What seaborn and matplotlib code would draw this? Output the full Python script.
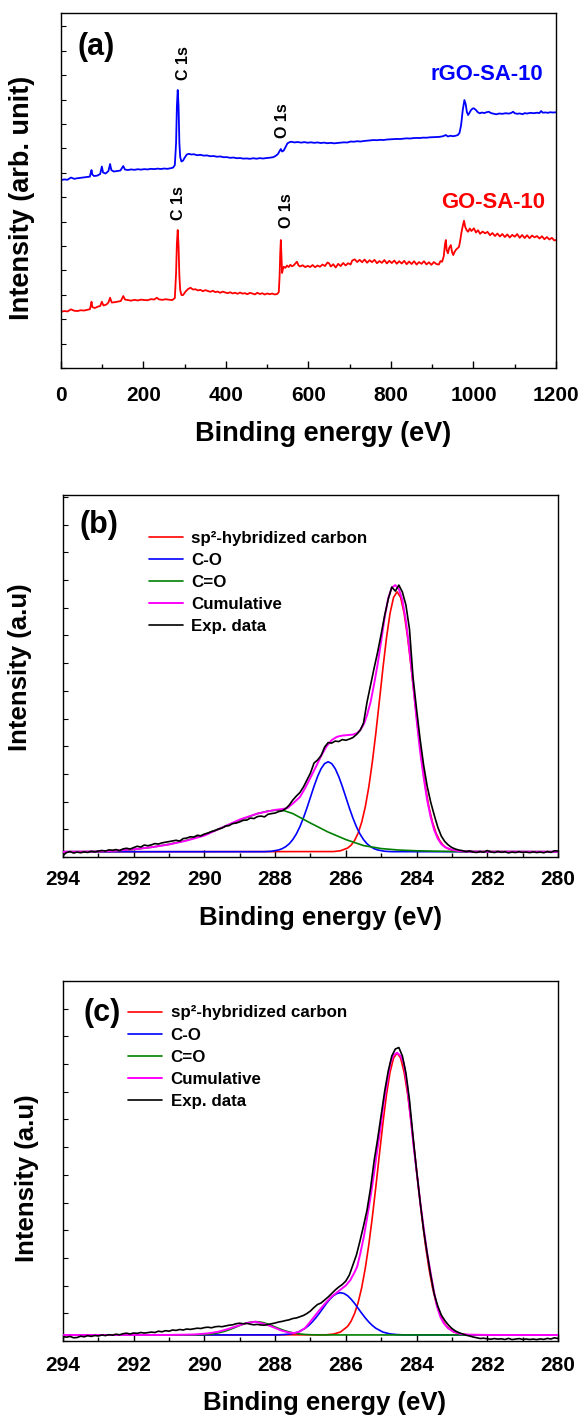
import numpy as np
import matplotlib
matplotlib.use("Agg")
import matplotlib.pyplot as plt
from matplotlib.ticker import MultipleLocator
import seaborn as sns

# ---------------- DATA ----------------
# (a) survey spectra, intensity in arbitrary units
rgo_x = [0, 8, 16, 24, 32, 40, 48, 56, 64, 70, 72, 74, 76, 80, 88, 95, 99, 102, 108, 115, 119, 122, 128, 136, 144,
         151, 155, 162, 170, 178, 186, 194, 202, 210, 218, 226, 234, 242, 250, 258, 266, 272, 276, 279, 281, 283,
         285, 287, 289, 292, 296, 300, 305, 310, 316, 322, 330, 338, 346, 354, 362, 370, 378, 386, 394, 402, 410,
         418, 426, 434, 442, 450, 458, 466, 474, 482, 490, 498, 506, 514, 520, 526, 530, 533, 536, 540, 545, 549,
         554, 558, 566, 574, 582, 590, 598, 606, 614, 622, 630, 638, 646, 654, 662, 670, 678, 686, 694, 702, 710,
         718, 726, 734, 742, 750, 758, 766, 774, 782, 790, 798, 806, 814, 822, 830, 838, 846, 854, 862, 870, 878,
         886, 894, 902, 910, 918, 926, 933, 938, 944, 950, 956, 962, 966, 970, 974, 978, 981, 984, 987, 990, 994,
         998, 1001, 1006, 1010, 1015, 1020, 1026, 1032, 1037, 1042, 1048, 1055, 1062, 1070, 1078, 1086, 1092,
         1096, 1100, 1106, 1112, 1119, 1124, 1130, 1138, 1146, 1154, 1160, 1164, 1168, 1174, 1180, 1186, 1192, 1200]
rgo_y = [188.0, 188.6, 188.3, 190.5, 189.2, 189.8, 190.2, 190.6, 191.0, 191.4, 195.0, 198.0, 193.5, 192.0, 192.4,
         194.0, 201.5, 195.5, 194.5, 197.0, 204.0, 198.0, 196.5, 197.0, 197.5, 202.0, 198.5, 198.0, 198.6, 198.2,
         198.8, 198.4, 198.9, 198.6, 199.2, 198.9, 199.4, 199.0, 199.5, 199.2, 199.8, 200.5, 203.0, 225.0, 262.0,
         278.0, 262.0, 225.0, 211.0, 206.5, 207.5, 210.5, 213.5, 214.2, 213.5, 213.8, 212.8, 213.2, 212.4, 212.6,
         211.8, 212.0, 211.3, 211.6, 210.8, 210.9, 210.2, 210.5, 209.8, 210.0, 209.4, 209.6, 209.2, 209.8, 209.3,
         209.9, 209.5, 210.0, 210.3, 210.8, 212.0, 214.0, 217.0, 219.0, 216.5, 217.5, 221.5, 224.7, 225.8, 226.3,
         225.6, 226.0, 225.4, 225.9, 225.3, 225.7, 225.2, 225.6, 225.0, 225.4, 224.8, 225.2, 224.7, 225.0, 225.2,
         225.7, 225.5, 226.5, 226.3, 226.8, 226.5, 227.0, 227.3, 227.6, 228.0, 227.8, 228.2, 228.0, 228.5, 228.7,
         228.9, 229.1, 229.0, 229.4, 229.7, 229.5, 229.9, 230.1, 230.0, 230.4, 230.3, 230.7, 230.8, 231.0, 231.2,
         231.8, 233.0, 231.5, 232.3, 231.8, 232.2, 233.0, 235.0, 243.0, 258.0, 268.0, 264.0, 256.0, 253.0, 255.0,
         258.0, 259.5, 259.7, 258.0, 256.0, 254.7, 255.5, 255.0, 255.8, 256.3, 255.0, 254.4, 253.7, 254.5, 254.2,
         254.8, 254.4, 255.2, 256.3, 254.8, 254.2, 254.6, 253.8, 254.9, 254.5, 255.2, 254.8, 255.3, 255.0, 257.0,
         255.3, 255.6, 255.2, 255.8, 255.5, 255.7]

go_x = [0, 8, 16, 24, 32, 40, 48, 56, 64, 70, 72, 74, 76, 82, 90, 95, 99, 103, 110, 115, 119, 123, 130, 138, 145,
        151, 155, 162, 170, 178, 186, 194, 202, 210, 218, 226, 232, 238, 246, 254, 262, 270, 276, 279, 281, 283,
        285, 287, 289, 292, 296, 302, 308, 314, 320, 326, 332, 338, 344, 350, 356, 362, 368, 374, 380, 386, 392,
        398, 404, 410, 416, 422, 428, 434, 440, 446, 452, 458, 464, 470, 476, 482, 488, 494, 500, 506, 512, 518,
        524, 528, 530, 531.5, 533, 534.5, 536, 538, 540, 544, 548, 552, 556, 560, 564, 568, 572, 576, 580, 586,
        592, 598, 604, 610, 616, 622, 628, 634, 640, 646, 650, 654, 660, 666, 672, 678, 684, 690, 696, 702, 706,
        712, 718, 724, 730, 736, 742, 748, 754, 760, 766, 772, 778, 784, 790, 796, 802, 808, 814, 820, 826, 832,
        838, 844, 850, 856, 862, 868, 874, 880, 886, 892, 898, 904, 910, 916, 920, 924, 928, 931, 933, 935, 938,
        941, 945, 948, 951, 954, 958, 962, 965, 968, 971, 974, 977, 980, 984, 987, 991, 995, 1001, 1006, 1011,
        1016, 1022, 1028, 1034, 1040, 1046, 1052, 1058, 1064, 1070, 1076, 1082, 1088, 1094, 1100, 1106, 1112,
        1118, 1124, 1130, 1136, 1142, 1148, 1154, 1160, 1166, 1172, 1178, 1184, 1190, 1196, 1200]
go_y = [56.3, 57.0, 56.6, 58.7, 57.3, 57.0, 57.8, 57.5, 58.2, 58.8, 62.0, 66.3, 61.0, 60.0, 61.5, 62.0, 66.3, 62.5,
        63.5, 65.5, 70.3, 65.5, 65.8, 66.5, 67.0, 72.0, 68.5, 68.0, 67.4, 68.2, 67.6, 68.4, 68.0, 67.8, 68.9, 68.5,
        70.3, 68.6, 68.2, 68.8, 68.3, 68.0, 70.0, 95.0, 125.0, 138.0, 122.0, 92.0, 78.0, 73.0, 73.0, 76.5, 79.0,
        80.3, 78.5, 78.8, 77.6, 78.2, 76.8, 77.9, 77.0, 76.2, 77.3, 75.9, 76.5, 75.2, 76.4, 75.6, 74.8, 75.8, 74.6,
        75.3, 74.2, 75.5, 74.4, 74.9, 73.8, 75.2, 74.5, 73.6, 75.3, 74.0, 74.8, 73.5, 74.6, 73.8, 74.5, 73.6, 74.0,
        76.0, 92.0, 115.0, 128.0, 110.0, 95.0, 99.0, 101.3, 100.2, 102.5, 101.0, 103.2, 101.8, 102.6, 104.5, 106.3,
        102.5, 101.6, 102.8, 100.9, 102.2, 101.0, 103.0, 100.8, 102.5, 101.3, 103.5, 102.0, 105.5, 104.7, 101.5,
        103.8, 100.5, 104.2, 102.0, 105.0, 102.6, 104.8, 103.5, 107.5, 108.7, 106.0, 108.2, 105.8, 108.5, 105.3,
        107.8, 105.9, 108.2, 104.8, 107.0, 105.2, 108.0, 104.6, 107.2, 105.0, 107.5, 104.3, 106.8, 104.5, 107.2,
        103.8, 106.5, 104.0, 106.8, 103.5, 106.0, 104.2, 106.8, 103.6, 105.8, 103.2, 106.0, 104.0, 103.5, 107.0,
        106.3, 112.0, 124.0, 128.0, 118.0, 114.7, 120.0, 123.0, 116.0, 113.0, 116.0, 118.5, 120.0, 121.3, 128.0,
        136.0, 142.0, 147.3, 141.0, 137.5, 136.3, 139.5, 137.0, 139.7, 135.5, 137.8, 134.2, 136.5, 134.7, 136.2,
        132.8, 135.0, 132.0, 134.5, 131.6, 134.0, 131.0, 133.6, 130.5, 133.2, 131.3, 134.0, 130.2, 133.0, 130.0,
        132.8, 129.8, 132.5, 130.7, 132.0, 129.5, 131.8, 128.8, 131.0, 128.5, 130.2, 127.6, 128.0]

# (b) C 1s of GO-SA-10
b_exp_x = np.round(np.arange(2940, 2799, -1) / 10.0, 1)
b_exp_y = [1.5, 4.5, 5.5, 4.0, 5.0, 4.3, 5.2, 4.6, 5.8, 5.2,
           6.0, 6.6, 6.0, 7.2, 6.8, 7.5, 6.4, 8.2, 8.8, 8.0,
           9.5, 10.8, 10.0, 12.0, 11.3, 12.2, 13.5, 13.0, 14.2, 14.8,
           15.5, 16.2, 16.8, 16.0, 18.5, 19.0, 20.3, 20.0, 21.8, 21.2,
           23.0, 24.0, 25.5, 26.5, 28.0, 29.0, 31.0, 31.5, 33.5, 34.0,
           35.2, 36.8, 37.0, 39.0, 38.5, 40.5, 41.0, 40.2, 42.8, 43.5,
           44.0, 45.5, 46.2, 48.5, 52.0, 57.0, 61.0, 64.5, 70.0, 77.0,
           84.0, 94.0, 97.0, 101.5, 110.0, 114.5, 114.0, 116.0, 115.5, 117.5,
           116.8, 118.0, 119.5, 122.5, 126.5, 134.0, 155.0, 172.0, 189.0, 205.0,
           223.0, 242.0, 258.0, 270.0, 266.0, 272.0, 265.0, 252.0, 228.0, 180.0,
           148.0, 118.0, 92.0, 71.0, 55.0, 42.0, 30.0, 21.0, 15.5, 12.0,
           9.5, 8.0, 7.0, 6.4, 5.5, 6.2, 5.0, 4.6, 5.5, 4.8,
           6.5, 5.2, 4.5, 5.6, 4.8, 5.3, 4.2, 5.0, 4.5, 5.4,
           4.6, 5.0, 4.4, 5.2, 4.5, 5.0, 4.3, 5.5, 4.7, 6.3,
           6.0]
b_sp2_x = [294.0, 286.35, 286.15, 285.95, 285.85, 285.75, 285.65, 285.55, 285.45, 285.35, 285.25, 285.15, 285.05,
           284.95, 284.85, 284.75, 284.65, 284.55, 284.45, 284.35, 284.25, 284.15, 284.05, 283.95, 283.85, 283.75,
           283.65, 283.55, 283.45, 283.35, 283.25, 283.15, 282.95, 282.75, 280.0]
b_sp2_y = [5.3, 5.5, 6.3, 9.0, 11.9, 16.7, 24.1, 35.0, 50.1, 70.1, 95.1, 124.3, 156.4, 189.1, 219.2, 243.7, 259.7,
           265.3, 259.7, 243.7, 219.2, 189.1, 156.4, 124.3, 95.1, 70.1, 50.1, 35.0, 24.1, 16.7, 11.9, 9.0, 6.3, 5.5,
           5.3]
b_co_x = [294.0, 288.3, 288.1, 287.9, 287.8, 287.7, 287.6, 287.5, 287.4, 287.3, 287.2, 287.1, 287.0, 286.9, 286.8,
          286.7, 286.6, 286.5, 286.4, 286.3, 286.2, 286.1, 286.0, 285.9, 285.8, 285.7, 285.6, 285.5, 285.4, 285.3,
          285.2, 285.1, 284.9, 284.7, 280.0]
b_co_y = [5.3, 5.4, 5.8, 7.1, 8.4, 10.4, 13.3, 17.5, 23.1, 30.3, 39.1, 49.1, 59.9, 70.7, 80.5, 88.4, 93.5, 95.3,
          93.5, 88.4, 80.5, 70.7, 59.9, 49.1, 39.1, 30.3, 23.1, 17.5, 13.3, 10.4, 8.4, 7.1, 5.8, 5.4, 5.3]
b_cdo_x = [294.0, 293.0, 292.5, 292.0, 291.5, 291.0, 290.5, 290.0, 289.5, 289.0, 288.5, 288.2, 288.0, 287.8, 287.5,
           287.0, 286.5, 286.0, 285.5, 285.0, 284.5, 284.0, 283.5, 283.0, 282.0, 280.0]
b_cdo_y = [5.3, 5.5, 6.2, 7.6, 9.8, 12.8, 16.8, 22.5, 29.5, 37.0, 43.5, 46.0, 46.8, 47.0, 43.5, 34.0, 25.0, 17.5,
           11.5, 8.5, 7.0, 6.3, 5.9, 5.6, 5.4, 5.3]
b_cum_x = [294.0, 293.5, 293.0, 292.5, 292.0, 291.5, 291.0, 290.5, 290.0, 289.5, 289.0, 288.5, 288.0, 287.8, 287.65,
           287.5, 287.3, 287.15, 287.0, 286.85, 286.7, 286.55, 286.4, 286.25, 286.1, 285.95, 285.8, 285.68, 285.58,
           285.49, 285.4, 285.3, 285.2, 285.1, 285.0, 284.9, 284.8, 284.7, 284.6, 284.5, 284.4, 284.3, 284.2, 284.1,
           284.0, 283.9, 283.8, 283.7, 283.6, 283.5, 283.4, 283.3, 283.2, 283.0, 282.8, 282.5, 282.0, 280.0]
b_cum_y = [5.3, 5.4, 5.6, 6.4, 7.8, 9.8, 12.6, 16.5, 21.5, 29.5, 37.5, 43.5, 47.2, 48.0, 49.0, 53.5, 60.0, 69.0,
           79.5, 90.0, 101.0, 110.5, 117.0, 120.3, 121.5, 122.0, 122.5, 124.0, 127.5, 133.0, 142.0, 155.0, 173.0,
           193.0, 216.0, 240.0, 259.0, 269.5, 272.0, 268.0, 257.0, 236.0, 207.0, 174.0, 138.0, 106.0, 80.0, 57.0,
           40.0, 27.0, 18.5, 13.0, 10.0, 7.3, 6.0, 5.5, 5.35, 5.3]

# (c) C 1s of rGO-SA-10
c_exp_x = np.round(np.arange(2940, 2799, -1) / 10.0, 1)
c_exp_y = [4.5, 3.8, 4.6, 3.2, 3.5, 4.8, 4.2, 5.3, 4.6, 5.5,
           5.0, 6.0, 5.4, 6.3, 5.8, 6.8, 6.2, 7.3, 7.8, 7.0,
           8.0, 7.6, 8.5, 7.9, 8.4, 8.9, 8.5, 9.8, 9.2, 10.3,
           9.8, 11.0, 10.6, 11.5, 11.0, 12.0, 11.6, 12.2, 12.8, 12.5,
           13.4, 13.8, 13.2, 14.2, 14.6, 14.3, 15.0, 15.8, 16.2, 17.3,
           17.8, 17.2, 17.6, 16.8, 16.2, 16.6, 16.0, 15.8, 16.5, 17.3,
           18.0, 19.0, 19.6, 20.5, 21.2, 22.5, 23.0, 24.2, 25.5, 27.5,
           30.0, 33.5, 36.5, 38.0, 41.0, 44.0, 47.5, 51.0, 54.0, 56.5,
           60.0, 66.0, 76.0, 86.0, 100.0, 115.0, 131.0, 153.0, 180.0, 202.0,
           226.0, 250.0, 270.0, 285.0, 292.0, 293.5, 285.0, 268.0, 241.0, 205.0,
           171.0, 140.0, 111.0, 87.7, 66.0, 47.0, 35.0, 26.0, 20.5, 16.0,
           12.5, 10.0, 8.3, 7.0, 5.8, 5.0, 4.0, 3.2, 2.5, 2.8,
           2.2, 1.8, 2.4, 1.9, 2.2, 1.5, 2.6, 1.4, 1.9, 2.4,
           1.6, 2.0, 1.5, 1.9, 1.4, 2.1, 1.6, 2.6, 2.0, 3.2,
           2.5]
c_sp2_x = [294.0, 286.55, 286.35, 286.15, 285.95, 285.85, 285.75, 285.65, 285.55, 285.45, 285.35, 285.25, 285.15,
           285.05, 284.95, 284.85, 284.75, 284.65, 284.55, 284.45, 284.35, 284.25, 284.15, 284.05, 283.95, 283.85,
           283.75, 283.65, 283.55, 283.45, 283.35, 283.25, 283.15, 282.95, 282.75, 282.55, 280.0]
c_sp2_y = [6.0, 6.2, 6.9, 9.0, 14.6, 19.9, 27.7, 38.7, 53.5, 72.7, 96.3, 123.9, 154.6, 186.7, 218.1, 246.3, 268.6,
           283.0, 288.0, 283.0, 268.6, 246.3, 218.1, 186.7, 154.6, 123.9, 96.3, 72.7, 53.5, 38.7, 27.7, 19.9, 14.6,
           9.0, 6.9, 6.2, 6.0]
c_co_x = [294.0, 287.95, 287.75, 287.55, 287.35, 287.15, 287.05, 286.95, 286.85, 286.75, 286.65, 286.55, 286.45,
          286.35, 286.25, 286.15, 286.05, 285.95, 285.85, 285.75, 285.65, 285.55, 285.45, 285.35, 285.25, 285.15,
          284.95, 284.75, 284.55, 284.35, 280.0]
c_co_y = [6.0, 6.1, 6.4, 7.1, 8.9, 12.7, 15.5, 19.0, 23.1, 27.7, 32.6, 37.5, 41.8, 45.3, 47.5, 48.3, 47.5, 45.3,
          41.8, 37.5, 32.6, 27.7, 23.1, 19.0, 15.5, 12.7, 8.9, 7.1, 6.4, 6.1, 6.0]
c_cdo_x = [294.0, 290.35, 290.15, 289.95, 289.75, 289.55, 289.45, 289.35, 289.25, 289.15, 289.05, 288.95, 288.85,
           288.75, 288.65, 288.55, 288.45, 288.35, 288.25, 288.15, 288.05, 287.95, 287.85, 287.75, 287.65, 287.55,
           287.35, 287.15, 286.95, 286.75, 280.0]
c_cdo_y = [6.0, 6.06, 6.2, 6.5, 7.2, 8.6, 9.5, 10.6, 11.9, 13.3, 14.8, 16.2, 17.5, 18.45, 19.1, 19.3, 19.1, 18.45,
           17.5, 16.2, 14.8, 13.3, 11.9, 10.6, 9.5, 8.6, 7.2, 6.5, 6.2, 6.06, 6.0]
c_cum_x = [294.0, 291.0, 290.3, 289.9, 289.6, 289.35, 289.0, 288.8, 288.55, 288.3, 288.05, 287.85, 287.6, 287.45,
           287.3, 287.15, 287.0, 286.8, 286.6, 286.4, 286.2, 286.0, 285.87, 285.75, 285.68, 285.6, 285.49, 285.4,
           285.3, 285.2, 285.11, 285.0, 284.93, 284.84, 284.74, 284.65, 284.55, 284.45, 284.36, 284.26, 284.17,
           284.08, 283.98, 283.89, 283.79, 283.7, 283.6, 283.51, 283.42, 283.33, 283.23, 283.1, 282.95, 282.76,
           282.5, 282.0, 280.0]
c_cum_y = [6.0, 6.05, 6.5, 7.6, 9.3, 11.8, 15.8, 18.0, 19.3, 17.0, 13.8, 10.8, 8.3, 8.0, 9.5, 13.0, 19.5, 28.5,
           37.0, 44.5, 50.0, 55.5, 61.0, 69.0, 74.3, 86.0, 104.3, 123.0, 144.3, 168.0, 191.0, 218.0, 237.7, 257.0,
           277.7, 286.0, 288.3, 285.0, 277.7, 254.0, 224.3, 194.0, 164.3, 137.0, 111.0, 88.0, 67.7, 50.0, 34.3,
           24.5, 17.7, 12.5, 9.3, 7.0, 6.3, 6.05, 6.0]

legend_labels = ["sp\u00b2-hybridized carbon", "C-O", "C=O", "Cumulative", "Exp. data"]
survey_xticks = [0, 200, 400, 600, 800, 1000, 1200]
c1s_xticks = [294, 292, 290, 288, 286, 284, 282, 280]

# ---------------- STYLE ----------------
sns.set_style("ticks")
plt.rcParams["font.family"] = ["Liberation Sans", "DejaVu Sans"]
plt.rcParams["font.weight"] = "bold"
plt.rcParams["axes.labelweight"] = "bold"
plt.rcParams["axes.linewidth"] = 1.0
plt.rcParams["xtick.direction"] = "in"
plt.rcParams["ytick.direction"] = "in"
for k in ["text.color", "axes.labelcolor", "xtick.color", "ytick.color", "axes.edgecolor"]:
    plt.rcParams[k] = "black"

RED, BLUE, GREEN, MAG = "#FF0000", "#0000FF", "#008000", "#FF00FF"

fig = plt.figure(figsize=(5.82, 14.15), dpi=100)
axa = fig.add_axes([0.1048, 0.7399, 0.8505, 0.2509])
axb = fig.add_axes([0.1082, 0.3943, 0.8505, 0.2558])
axc = fig.add_axes([0.1082, 0.0523, 0.8505, 0.2544])


def line(ax, x, y, color, lw, label=None, z=2):
    sns.lineplot(x=list(x), y=list(y), ax=ax, color=color, linewidth=lw, estimator=None,
                 sort=False, label=label, zorder=z, legend=False)


def style_axis(ax, xlabel, ylabel, ylab_xy, xlab_xy, pad):
    for s in ax.spines.values():
        s.set_visible(True)
        s.set_color("black")
        s.set_linewidth(1.0)
    ax.tick_params(axis="both", which="both", direction="in", color="black")
    ax.tick_params(axis="x", which="major", length=5, width=1.0, pad=pad, labelsize=15,
                   labelcolor="black")
    ax.tick_params(axis="x", which="minor", length=3, width=1.0)
    ax.tick_params(axis="y", which="major", length=3.5, width=0.8, labelleft=False)
    ax.set_xlabel(xlabel, fontsize=xlab_xy[2], fontweight="bold", color="black")
    ax.set_ylabel(ylabel, fontsize=ylab_xy[2], fontweight="bold", color="black")
    ax.yaxis.set_label_coords(ylab_xy[0], ylab_xy[1])
    ax.xaxis.set_label_coords(xlab_xy[0], xlab_xy[1])
    for t in ax.get_xticklabels():
        t.set_fontweight("bold")


# ---------------- (a) ----------------
line(axa, rgo_x, rgo_y, BLUE, 1.3)
line(axa, go_x, go_y, RED, 1.3)
axa.set_xlim(0, 1200)
axa.set_ylim(0, 355)
axa.set_xticks(survey_xticks)
axa.xaxis.set_minor_locator(MultipleLocator(100))
axa.yaxis.set_major_locator(MultipleLocator(24.4))
style_axis(axa, "Binding energy (eV)", "Intensity (arb. unit)",
           (-0.052, 0.48, 19.5), (0.529, -0.150, 19.5), 13)
axa.text(0.034, 0.904, "(a)", transform=axa.transAxes, fontsize=22, fontweight="bold",
         ha="left", va="center")
for xx, yy in [(296, 288), (286, 148), (536, 230), (547, 140)]:
    lab = "C 1s" if xx < 400 else "O 1s"
    axa.text(xx, yy, lab, rotation=90, fontsize=11.5, fontweight="bold", color="black",
             ha="center", va="bottom")
axa.text(1168, 294, "rGO-SA-10", color=BLUE, fontsize=15.8, fontweight="bold", ha="right", va="center")
axa.text(1173, 166, "GO-SA-10", color=RED, fontsize=15.8, fontweight="bold", ha="right", va="center")

# ---------------- (b) and (c) ----------------
panels = [
    (axb, "(b)", (b_sp2_x, b_sp2_y), (b_co_x, b_co_y), (b_cdo_x, b_cdo_y), (b_cum_x, b_cum_y),
     (b_exp_x, b_exp_y), 362, (0.034, 0.917), (0.174, 0.901), (-0.063, 0.525), (0.52, -0.135), 9),
    (axc, "(c)", (c_sp2_x, c_sp2_y), (c_co_x, c_co_y), (c_cdo_x, c_cdo_y), (c_cum_x, c_cum_y),
     (c_exp_x, c_exp_y), 360, (0.042, 0.911), (0.132, 0.932), (-0.048, 0.453), (0.528, -0.140), 10.5),
]
for ax, tag, sp2, co, cdo, cum, exp, ytop, tagpos, legpos, ylp, xlp, pad in panels:
    line(ax, sp2[0], sp2[1], RED, 1.2, legend_labels[0], 3)
    line(ax, co[0], co[1], BLUE, 1.2, legend_labels[1], 3)
    line(ax, cdo[0], cdo[1], GREEN, 1.2, legend_labels[2], 3)
    line(ax, cum[0], cum[1], MAG, 1.4, legend_labels[3], 4)
    line(ax, exp[0], exp[1], "black", 1.2, legend_labels[4], 5)
    ax.set_xlim(294, 280)
    ax.set_ylim(0, ytop)
    ax.set_xticks(c1s_xticks)
    ax.xaxis.set_minor_locator(MultipleLocator(1))
    ax.yaxis.set_major_locator(MultipleLocator(27.7))
    style_axis(ax, "Binding energy (eV)", "Intensity (a.u)", (ylp[0], ylp[1], 18.5),
               (xlp[0], xlp[1], 18.5), pad)
    ax.text(tagpos[0], tagpos[1], tag, transform=ax.transAxes, fontsize=22, fontweight="bold",
            ha="left", va="center")
    handles, labels = ax.get_legend_handles_labels()
    ax.legend(handles, labels, loc="upper left", bbox_to_anchor=legpos, frameon=False,
              borderpad=0, borderaxespad=0, handlelength=2.0, handletextpad=0.5,
              labelspacing=0.42, prop={"weight": "bold", "size": 12.2})

fig.savefig("out.png", dpi=100)
